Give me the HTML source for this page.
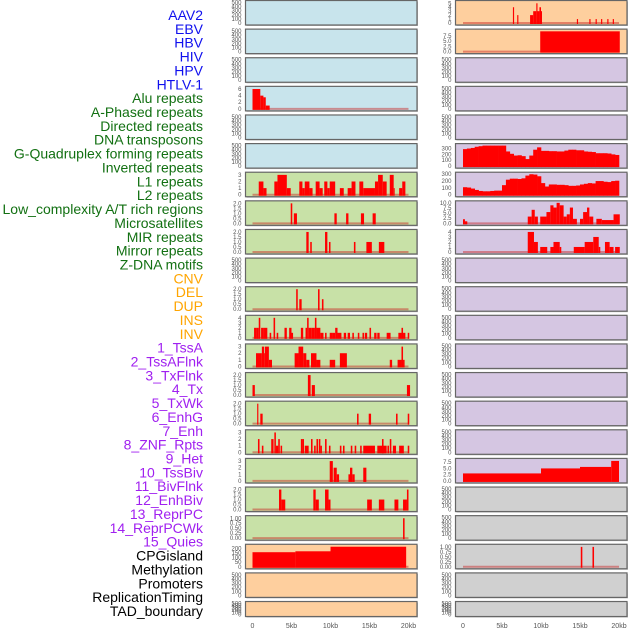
<!DOCTYPE html>
<html><head><meta charset="utf-8"><style>
body{margin:0;background:#fff;width:630px;height:630px;overflow:hidden}
svg{display:block}
.lbl{font-family:"Liberation Sans",sans-serif;font-size:14px}
.tk{font-family:"Liberation Sans",sans-serif;font-size:6px;fill:#555}
.xt{font-family:"Liberation Sans",sans-serif;font-size:7px;fill:#555}
</style></head><body>
<svg id="chart" width="630" height="630" viewBox="0 0 630 630">
<g id="labels"></g>
<g id="panels"></g>
<g id="xaxis"></g>
</svg>
<script>
// Track labels
const trackNames = ["AAV2","EBV","HBV","HIV","HPV","HTLV-1","Alu repeats","A-Phased repeats","Directed repeats","DNA transposons","G-Quadruplex forming repeats","Inverted repeats","L1 repeats","L2 repeats","Low_complexity A/T rich regions","Microsatellites","MIR repeats","Mirror repeats","Z-DNA motifs","CNV","DEL","DUP","INS","INV","1_TssA","2_TssAFlnk","3_TxFlnk","4_Tx","5_TxWk","6_EnhG","7_Enh","8_ZNF_Rpts","9_Het","10_TssBiv","11_BivFlnk","12_EnhBiv","13_ReprPC","14_ReprPCWk","15_Quies","CPGisland","Methylation","Promoters","ReplicationTiming","TAD_boundary"];
const trackGroups = [6,13,5,15,5];
const groupColors = ["#1010ee","#127012","#ffa500","#a020f0","#000000"];
const xTickKb = [0,5,10,15,20];
const xTickLabels = ["0","5kb","10kb","15kb","20kb"];

// Panel backgrounds per row (left column, right column)
const bgLeft = ["b","b","b","b","b","b","g","g","g","g","g","g","g","g","g","g","g","g","g","o","o","o"];
const bgRight = ["o","o","p","p","p","p","p","p","p","p","p","p","p","p","p","p","p","x","x","x","x","x"];
const bgColor = {b:"#c8e4ec",g:"#c8e1a7",o:"#fecf9e",p:"#d5c6e2",x:"#d0d0d0"};

// y tick sets
const T500=[0,100,200,300,400,500];
const ticksLeft = [T500,T500,T500,[0,2,4,6],T500,T500,[0,1,2,3],[0,0.5,1,1.5,2],[0,0.5,1,1.5,2],T500,[0,0.5,1,1.5,2],[0,1,2,3,4],[0,1,2,3],[0,0.5,1,1.5,2],[0,0.5,1,1.5,2],[0,1,2,3],[0,1,2,3],[0,0.5,1,1.5,2],[0,0.25,0.5,0.75,1],[0,50,100,150,200],T500,T500];
const ticksRight = [[0,1,2,3,4,5],[0,2.5,5,7.5],T500,T500,T500,[0,100,200,300],[0,100,200,300],[0,2.5,5,7.5,10],[0,1,2,3,4],T500,T500,T500,T500,T500,T500,T500,[0,2.5,5,7.5],T500,T500,[0,0.25,0.5,0.75,1],T500,T500];
const yMaxLeft = [500,500,500,6.2,500,500,3.1,2.05,2.05,500,2.05,4.1,3.1,2.05,2.05,3.1,3.1,2.05,1.03,225,500,500];
const yMaxRight = [5.2,9.8,500,500,500,350,300,10,4.1,500,500,500,500,500,500,500,8.2,500,500,1.03,500,500];

// Segment data: [startKb, endKb, value]
const alu = [[0,1.0,6],[1.0,1.4,4],[1.4,1.7,3.5],[1.7,2.2,1]];
const l1 = [[0.8,1.4,2],[1.4,1.8,1],[2.8,3.2,2],[3.2,4.4,3],[4.4,4.9,1],[6.0,6.4,2],[6.4,6.7,1],[6.7,7.3,2],[7.3,7.7,1],[8.1,8.6,2],[8.6,9.0,1],[9.2,9.6,2],[9.6,9.9,1],[9.9,10.6,2],[11.2,11.7,1],[12.2,12.7,1],[12.7,13.2,2],[13.7,14.2,2],[14.2,15.7,1],[15.7,16.1,2],[16.1,16.7,3],[16.7,17.2,2],[17.6,18.1,3],[18.1,18.2,1],[18.8,19.2,1],[19.2,19.6,2]];
const l2 = [[4.9,5.1,2],[5.3,5.7,1],[10.5,10.8,1],[12.0,12.3,1],[13.9,14.3,1],[15.4,15.8,1]];
const mir = [[6.9,7.2,2],[7.4,7.6,1],[9.3,9.6,2],[9.8,10.0,1],[13.0,13.2,1],[14.6,15.3,1],[16.2,16.9,1]];
const cnv = [[5.6,5.8,2],[6.0,6.3,1],[8.4,8.6,2],[8.9,9.1,1]];
const del = [[0.2,0.5,2],[0.5,0.8,2],[0.8,1.0,4],[1.1,1.4,2],[1.4,1.6,2],[1.6,1.9,2],[2.2,2.4,1],[2.7,2.9,4],[3.1,3.3,1],[4.1,4.4,2],[4.7,5.0,2],[5.0,5.2,1],[6.2,6.5,2],[6.8,7.0,2],[7.0,7.2,4],[7.2,7.6,2],[7.6,8.0,2],[8.0,8.2,4],[8.2,8.7,2],[8.7,9.1,1],[9.3,9.5,1],[9.9,10.2,1],[10.2,10.6,1],[10.6,10.9,2],[10.9,11.4,1],[11.7,12.0,1],[12.2,12.5,1],[12.8,13.0,1],[13.5,13.7,1],[14.1,14.3,1],[14.4,14.7,1],[15.0,15.2,2],[15.6,15.9,1],[16.0,16.3,1],[17.2,17.7,1],[18.7,19.1,1],[19.1,19.3,2],[19.3,19.6,1],[19.9,20.1,1]];
const dup = [[0.45,1.2,2],[1.2,1.5,3],[1.5,1.6,2],[1.6,2.1,3],[2.1,2.5,1],[5.4,5.9,2],[5.9,6.5,3],[6.5,6.9,2],[6.9,7.3,1],[7.5,8.2,2],[8.2,8.7,1],[9.9,10.6,1],[11.2,12.1,2],[17.6,17.9,1],[18.6,19.1,1],[19.1,19.3,3],[19.3,19.5,1]];
const ins = [[0,0.3,1],[7.1,7.45,2],[7.6,8.0,1],[19.8,20.2,1]];
const inv = [[0.6,0.75,2],[1.0,1.3,1],[13.4,13.6,1],[14.9,15.2,1],[18.4,18.6,1],[19.9,20.1,1]];
const tssA = [[0.7,0.9,2],[1.2,1.4,1],[2.4,2.7,2],[2.8,3.0,3],[3.0,3.3,1],[3.3,3.5,2],[3.6,3.8,1],[6.2,6.4,2],[6.4,6.6,2],[6.7,7.2,1],[7.5,7.7,2],[7.9,8.1,1],[8.2,8.4,2],[8.5,8.7,2],[8.7,8.9,1],[9.3,9.5,2],[9.8,10.0,1],[11.2,11.4,1],[11.6,11.8,1],[12.6,12.8,1],[13.1,13.3,1],[13.8,14.0,1],[14.2,15.7,1],[16.0,17.2,1],[16.6,16.8,2],[17.3,17.5,1],[17.6,17.8,2],[18.0,18.4,1],[18.8,19.4,1],[19.9,20.1,1]];
const tssAFlnk = [[9.9,10.3,3],[10.4,10.8,2],[10.8,11.1,1],[12.3,12.5,1],[12.5,12.8,2],[12.8,13.1,1],[14.2,14.6,2]];
const txFlnk = [[3.4,3.7,2],[3.7,4.2,1],[7.8,8.1,2],[8.1,8.5,1],[9.3,9.75,2],[9.75,10.0,1],[14.7,15.3,1],[16.2,16.9,1],[18.2,18.7,1],[19.3,19.8,1],[19.8,20.0,2]];
const tx = [[19.3,19.5,1]];
const cpg = [[0,5.5,160],[5.5,10,170],[10,19.7,220]];
const aav2 = [[6.4,6.55,4],[6.95,7.1,2],[8.6,9.0,2],[9.0,9.4,3],[9.4,9.55,5],[9.55,9.8,3],[9.8,10.0,4],[10.0,10.1,3],[14.6,14.75,1],[16.2,16.35,1],[17.0,17.15,1],[17.7,17.85,1],[18.5,18.65,1],[19.2,19.35,1]];
const ebv = [[9.9,20.1,9.7]];
const r7 = [[0,0.25,2],[0.25,0.55,1],[8.3,8.8,3.3],[8.8,9.2,6.6],[9.2,9.6,3.3],[9.9,10.7,3.3],[10.7,11.2,5.5],[11.2,11.6,8.8],[11.6,12.0,7.7],[12.0,12.4,10],[12.4,12.9,8.8],[12.9,13.3,3.3],[13.3,13.7,4.4],[13.7,14.1,7.7],[14.1,14.6,2.2],[15.0,15.4,2.2],[15.4,15.9,5.5],[15.9,16.2,7.7],[16.2,16.7,3.3],[17.1,17.8,2.2],[17.8,19.3,1.6],[19.3,20.1,4.4]];
const r8 = [[8.3,9.1,4],[9.1,9.6,2],[9.9,10.8,1],[11.2,11.6,1],[11.6,12.4,2],[12.4,12.6,1],[14.2,15.6,1],[15.6,16.7,2],[16.7,17.4,3],[17.4,17.6,1],[18.2,18.8,2],[18.8,19.3,1],[19.5,20.1,1]];
const tssBiv = [[0,10,3],[10,15,5],[15,19,5.6],[19,20,8]];
const methyl = [[15.1,15.3,1],[16.6,16.8,1]];
// area tracks sampled every 0.5kb from 0 to 20kb
const gquadVals = [290,300,310,330,340,350,350,350,350,350,350,250,210,180,185,170,120,180,280,320,260,260,255,255,250,250,265,280,280,270,270,250,245,240,220,220,220,215,200,190];
const invRepVals = [110,105,90,70,55,50,50,55,60,60,140,220,235,235,230,240,280,300,295,270,170,120,150,150,145,145,140,130,130,135,150,160,170,165,200,200,190,185,200,205];

const dataLeft = {3:alu,6:l1,7:l2,8:mir,10:cnv,11:del,12:dup,13:ins,14:inv,15:tssA,16:tssAFlnk,17:txFlnk,18:tx,19:cpg};
const dataRight = {0:aav2,1:ebv,7:r7,8:r8,16:tssBiv,19:methyl};
const areaRight = {5:gquadVals,6:invRepVals};

const NS="http://www.w3.org/2000/svg";
function mk(tag,attrs,parent){const e=document.createElementNS(NS,tag);for(const k in attrs)e.setAttribute(k,attrs[k]);parent.appendChild(e);return e;}

// labels
const lg=document.getElementById('labels');
let gi=0,cnt=0;
trackNames.forEach((n,i)=>{
  while(cnt>=trackGroups[gi]){cnt=0;gi++;}
  cnt++;
  const t=mk('text',{x:203,y:20+i*13.86,'text-anchor':'end','class':'lbl',fill:groupColors[gi]},lg);
  
  
  t.textContent=n;
});

const pg=document.getElementById('panels');
const cols=[{x0:245.5,x1:417,zero:252.5,bg:bgLeft,ticks:ticksLeft,ymax:yMaxLeft,data:dataLeft,area:{},side:'left'},
            {x0:455.5,x1:627,zero:463,bg:bgRight,ticks:ticksRight,ymax:yMaxRight,data:dataRight,area:areaRight,side:'right'}];
const kbPx=7.8;
cols.forEach(c=>{
  const xs=kb=>c.zero+kb*kbPx;
  for(let r=0;r<22;r++){
    const top=0.5+r*28.62, h=(r===21?15:24.5);
    const g=mk('g',{},pg);
    
    
    mk('rect',{x:c.x0+1,y:top+1,width:c.x1-c.x0,height:h,fill:'#bbb'},g);
    const bgR=mk('rect',{x:c.x0,y:top,width:c.x1-c.x0,height:h,fill:bgColor[c.bg[r]],stroke:'#666','stroke-width':1.2},g);
    
    
    const bottom=top+h-2, usable=h-4;
    const ys=v=>bottom-v/c.ymax[r]*usable;
    c.ticks[r].forEach(tv=>{
      const lab = (c.ticks[r].some(v=>v%1!==0)) ? (c.ticks[r].some(v=>(v*100)%50!==0&&v%1!==0&&c.ticks[r].includes(0.25))?tv.toFixed(2):tv.toFixed(1)) : String(tv);
      const t=mk('text',{x:c.x0-4,y:ys(tv)+2,'text-anchor':'end','class':'tk'},g);
      
      
      t.textContent=lab;
    });
    const segs=c.data[r], area=c.area[r];
    if(segs||area){
      const bl=mk('line',{x1:xs(0),x2:xs(20),y1:bottom,y2:bottom,stroke:'rgba(200,30,30,0.45)','stroke-width':2},g);
      
      
    }
    if(segs){segs.forEach(s=>{
      const y=ys(s[2]);
      const b=mk('rect',{x:xs(s[0]),y:y,width:Math.max(1,xs(s[1])-xs(s[0])),height:bottom-y+1,fill:'#ff0000'},g);
      
      
    });}
    if(area){area.forEach((v,i)=>{
      const y=ys(v);
      const b=mk('rect',{x:xs(i*0.5),y:y,width:0.5*kbPx+0.3,height:bottom-y+1,fill:'#ff0000'},g);
      
      
    });}
  }
  const xa=document.getElementById('xaxis');
  xTickKb.forEach((k,i)=>{
    const t=mk('text',{x:xs(k),y:628,'text-anchor':'middle','class':'xt'},xa);
    
    
    t.textContent=xTickLabels[i];
  });
});
</script>
</body></html>
